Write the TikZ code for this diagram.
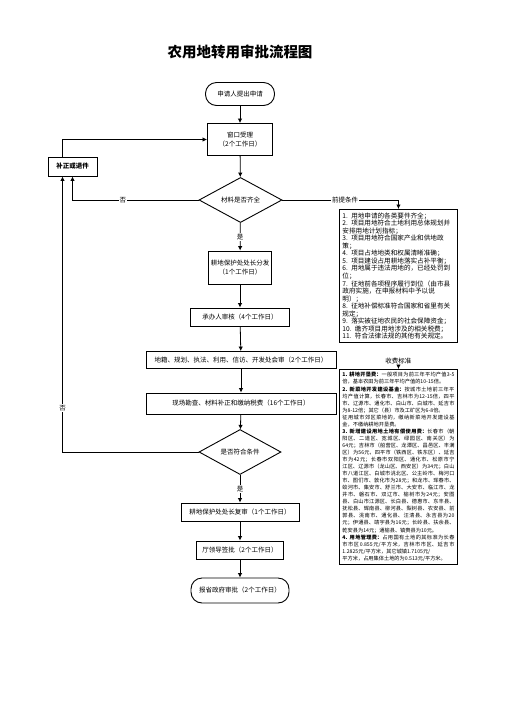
\documentclass[tikz,border=0pt]{standalone}
\usepackage{fontspec}
\setmainfont{Noto Sans CJK SC}
\XeTeXlinebreaklocale "zh"
\XeTeXlinebreakskip=0pt plus 1pt
\usetikzlibrary{positioning,arrows.meta,shapes.geometric}

\tikzset{
  flowbox/.style={draw, line width=0.9pt, align=center, inner sep=1pt,
    font=\fontsize{6.5}{8.5}\selectfont},
  termbox/.style={flowbox, rounded corners=11pt},
  decision/.style={draw, line width=0.9pt, diamond, inner sep=0pt,
    font=\fontsize{6.5}{8}\selectfont},
  notebox/.style={draw, line width=0.9pt, anchor=north west, inner sep=3pt,
    text width=112pt},
  flow/.style={line width=0.8pt, -{Latex[length=4.5pt,width=4.5pt]}},
  tag/.style={fill=white, inner sep=1pt, font=\fontsize{6.5}{8}\selectfont}
}

\begin{document}
\begin{tikzpicture}[x=1pt, y=-1pt]
\useasboundingbox (0,0) rectangle (504,713);
\node[font=\fontsize{14.5}{16}\selectfont\bfseries] (title) at (240,52) {农用地转用审批流程图};

% main column
\node[termbox, minimum width=69pt, minimum height=23pt] (apply) at (240,94) {申请人提出申请};
\node[flowbox, minimum width=65pt, minimum height=32pt] (accept) at (240,139.5) {窗口受理\\（2个工作日）};
\node[decision, minimum width=83pt, minimum height=36pt] (cond1) at (240.5,200) {材料是否齐全};
\node[flowbox, minimum width=63pt, minimum height=33pt] (dist) at (240,267.5) {耕地保护处处长分发\\（1个工作日）};
\node[flowbox, minimum width=99pt, minimum height=18pt] (check) at (240,317) {承办人审核（4个工作日）};
\node[flowbox, minimum width=190pt, minimum height=17pt] (joint) at (241,360) {地籍、规划、执法、利用、信访、开发处会审（2个工作日）};
\node[flowbox, minimum width=190pt, minimum height=21pt] (survey) at (241,403.5) {现场勘查、材料补正和缴纳税费（16个工作日）};
\node[decision, minimum width=82pt, minimum height=36pt] (cond2) at (240,452) {是否符合条件};
\node[flowbox, minimum width=118pt, minimum height=18pt] (recheck) at (240,512) {耕地保护处处长复审（1个工作日）};
\node[flowbox, minimum width=87pt, minimum height=18pt] (sign) at (240,550) {厅领导签批（2个工作日）};
\node[termbox, minimum width=98pt, minimum height=25pt] (report) at (240,590.5) {报省政府审批（2个工作日）};

% left side
\node[flowbox, minimum width=49pt, minimum height=19pt, font=\fontsize{6.5}{8}\selectfont\bfseries] (fix) at (72.5,166.5) {补正或退件};

% right side notes
\node[notebox, font=\fontsize{6.6}{7.55}\selectfont, align=left] (req) at (339,209) {%
1. 用地申请的各类要件齐全；\\
2. 项目用地符合土地利用总体规划并\\
安排用地计划指标；\\
3. 项目用地符合国家产业和供地政\\
策；\\
4. 项目占地地类和权属清晰准确；\\
5. 项目建设占用耕地落实占补平衡；\\
6. 用地属于违法用地的，已经处罚到\\
位；\\
7. 征地前各项程序履行到位（由市县\\
政府实施，在申报材料中予以说\\
明）；\\
8. 征地补偿标准符合国家和省里有关\\
规定；\\
9. 落实被征地农民的社会保障资金；\\
10. 缴齐项目用地涉及的相关税费；\\
11. 符合法律法规的其他有关规定。};
\node[notebox, font=\fontsize{5.2}{7.05}\selectfont, align=justify] (fee) at (339,369) {%
\textbf{1. 耕地开垦费：}一般项目为前三年平均产值3-5倍，基本农田为前三年平均产值的10-15倍。\\
\textbf{2. 新菜地开发建设基金：}按城市土地前三年平均产值计算，长春市、吉林市为12-15倍，四平市、辽源市、通化市、白山市、白城市、延吉市为8-12倍；其它（县）市及工矿区为6-8倍。\\
征用城市郊区菜地的，缴纳新菜地开发建设基金，不缴纳耕地开垦费。\\
\textbf{3. 新增建设用地土地有偿使用费：}长春市（朝阳区、二道区、宽城区、绿园区、南关区）为64元；吉林市（船营区、龙潭区、昌邑区、丰满区）为56元，四平市（铁西区、铁东区）、延吉市为42元；长春市双阳区、通化市、松原市宁江区、辽源市（龙山区、西安区）为34元；白山市八道江区、白城市洮北区、公主岭市、梅河口市、图们市、敦化市为28元；和龙市、珲春市、蛟河市、集安市、舒兰市、大安市、临江市、龙井市、磐石市、双辽市、榆树市为24元；安图县、白山市江源区、长白县、德惠市、东丰县、抚松县、辉南县、柳河县、梨树县、农安县、前郭县、洮南市、通化县、汪清县、永吉县为20元；伊通县、靖宇县为16元；长岭县、扶余县、乾安县为14元；通榆县、镇赉县为10元。\\
\textbf{4. 用地管理费：}占用国有土地的其标准为长春市市区0.855元/平方米，吉林市市区、延吉市1.2825元/平方米，其它城镇1.7105元/\\
平方米，占用集体土地的为0.513元/平方米。};
\node[tag, above=4pt of fee] (feelabel) {收费标准};

% connectors
\draw[flow] (apply) -- (accept);
\draw[flow] (accept) -- (cond1);
\draw[flow] (cond1) -- node[tag] {是} (dist);
\draw[flow] (dist) -- (check);
\draw[flow] (check) -- (joint);
\draw[flow] (joint) -- (survey);
\draw[flow] (survey) -- (cond2);
\draw[flow] (cond2) -- node[tag] {是} (recheck);
\draw[flow] (recheck) -- (sign);
\draw[flow] (sign) -- (report);
\draw[flow] (cond1.west) -| node[tag, pos=0.3] {否} (fix.south);
\draw[flow] (cond2.west) -| node[tag, pos=0.58] {否} ([xshift=-10pt]fix.south);
\draw[flow] ([xshift=-10pt]fix.north) |- (accept.west);
\draw[flow] (cond1.east) -| node[tag, pos=0.27] {前提条件} (req.north);
\draw[flow] (feelabel) -- (fee.north);
\end{tikzpicture}
\end{document}
